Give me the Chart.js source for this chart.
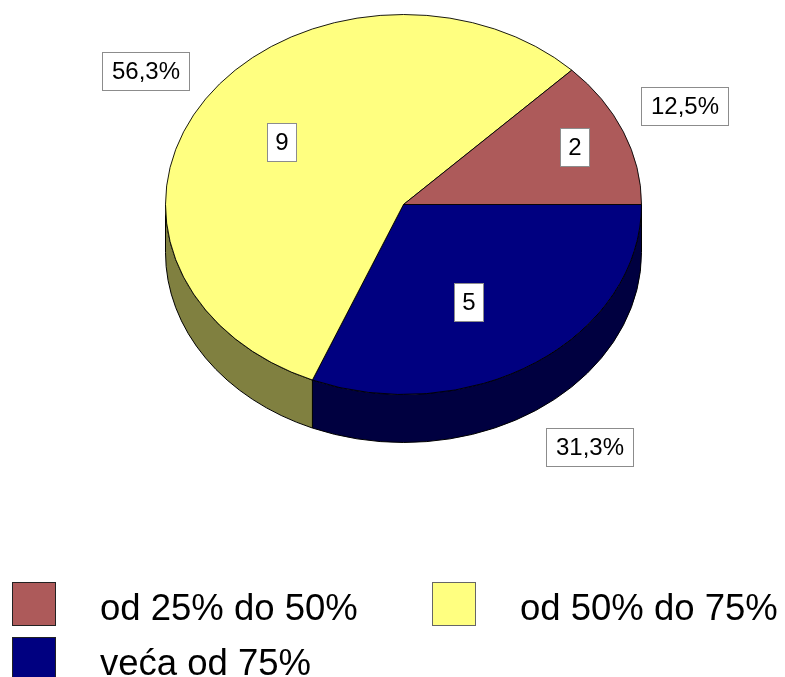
<!DOCTYPE html>
<html><head><meta charset="utf-8">
<script src="https://cdn.jsdelivr.net/npm/chart.js@4.4.1/dist/chart.umd.min.js"></script>
<style>html,body{margin:0;padding:0;background:#fff;overflow:hidden}canvas{display:block}</style>
</head><body>
<canvas id="c" width="785" height="677"></canvas>
<script>
// ---- data ----
const categories = ['od 25% do 50%', 'od 50% do 75%', 'veća od 75%'];
const counts = [2, 9, 5];
const percentLabels = ['12,5%', '56,3%', '31,3%'];
const topColors = ['#AD5A5A', '#FFFF80', '#000080'];
const sideColors = ['#572D2D', '#808040', '#000040'];

// ---- layout ----
const FONT = '"Liberation Sans", Arial, sans-serif';
const W = 785, H = 677;
const CX = 403.5, CY_SCREEN = 204.5, R = 238, K = 190 / 238, DEPTH = 48;
const CY_LOGICAL = 300;
// slices run counter-clockwise from 3 o'clock in the original; Chart.js draws clockwise
const drawOrder = [2, 1, 0];
const valueLabelRadius = [0.783, 0.607, 0.586];
const valueLabelAngleShift = [0, -1, 5.75];
const pctAnchorRadius = 1.078;

function props(arc) {
  return arc.getProps(['x', 'y', 'startAngle', 'endAngle', 'outerRadius'], true);
}

function labelBox(ctx, text, x, y, w, h) {
  ctx.fillStyle = '#fff';
  ctx.fillRect(Math.round(x), Math.round(y), Math.round(w), Math.round(h));
  ctx.strokeStyle = '#8c8c8c';
  ctx.lineWidth = 1;
  ctx.strokeRect(Math.round(x) + 0.5, Math.round(y) + 0.5, Math.round(w) - 1, Math.round(h) - 1);
  ctx.fillStyle = '#000';
  ctx.textAlign = 'center';
  ctx.textBaseline = 'middle';
  ctx.fillText(text, Math.round(x) + Math.round(w) / 2, Math.round(y) + Math.round(h) / 2 + 1);
}

const pie3d = {
  id: 'pie3d',
  beforeDatasetsDraw(chart) {
    const ctx = chart.ctx;
    const arcs = chart.getDatasetMeta(0).data;
    ctx.save();
    arcs.forEach((arc, j) => {
      const p = props(arc);
      const cat = drawOrder[j];
      const rx = p.outerRadius, ry = p.outerRadius * K;
      [-2 * Math.PI, 0, 2 * Math.PI].forEach(b => {
        const a0 = Math.max(p.startAngle, b), a1 = Math.min(p.endAngle, b + Math.PI);
        if (a1 - a0 > 1e-6) {
          ctx.beginPath();
          ctx.ellipse(p.x, CY_SCREEN, rx, ry, 0, a0, a1, false);
          ctx.lineTo(p.x + rx * Math.cos(a1), CY_SCREEN + DEPTH + ry * Math.sin(a1));
          ctx.ellipse(p.x, CY_SCREEN + DEPTH, rx, ry, 0, a1, a0, true);
          ctx.closePath();
          ctx.fillStyle = sideColors[cat];
          ctx.fill();
          ctx.strokeStyle = '#000';
          ctx.lineWidth = 1;
          ctx.stroke();
        }
      });
    });
    const cyL = arcs.length ? props(arcs[0]).y : CY_LOGICAL;
    ctx.translate(0, CY_SCREEN - K * cyL);
    ctx.scale(1, K);
  },
  afterDatasetsDraw(chart) {
    const ctx = chart.ctx;
    ctx.restore();
    const arcs = chart.getDatasetMeta(0).data;
    ctx.save();
    ctx.font = '24px ' + FONT;
    arcs.forEach((arc, j) => {
      const p = props(arc);
      const cat = drawOrder[j];
      const rx = p.outerRadius, ry = p.outerRadius * K;
      const mid = (p.startAngle + p.endAngle) / 2;
      // value label inside slice
      const va = mid + valueLabelAngleShift[cat] * Math.PI / 180;
      const vx = p.x + rx * valueLabelRadius[cat] * Math.cos(va);
      const vy = CY_SCREEN + ry * valueLabelRadius[cat] * Math.sin(va);
      const vt = String(counts[cat]);
      const vw = ctx.measureText(vt).width + 17;
      labelBox(ctx, vt, vx - vw / 2, vy - 19.5, vw, 39);
      // percentage label outside
      const c = Math.cos(mid), s = Math.sin(mid);
      const ax = p.x + rx * pctAnchorRadius * c;
      const ay = CY_SCREEN + ry * pctAnchorRadius * s + (s > 0 ? DEPTH + 5 : 0);
      const pt = percentLabels[cat];
      const pw = ctx.measureText(pt).width + 20;
      const bx = c >= 0 ? ax : ax - pw;
      const by = s > 0 ? ay : ay - 39;
      labelBox(ctx, pt, bx, by, pw, 39);
    });
    ctx.restore();
  },
  afterDraw(chart) {
    const ctx = chart.ctx;
    const items = [
      { cat: 0, x: 12, y: 582 },
      { cat: 1, x: 432, y: 582 },
      { cat: 2, x: 12, y: 637 }
    ];
    ctx.save();
    ctx.font = '36.5px ' + FONT;
    ctx.textAlign = 'left';
    ctx.textBaseline = 'alphabetic';
    items.forEach(it => {
      ctx.fillStyle = topColors[it.cat];
      ctx.fillRect(it.x, it.y, 44, 44);
      ctx.strokeStyle = it.cat === 1 ? '#666' : '#222';
      ctx.lineWidth = 1;
      ctx.strokeRect(it.x + 0.5, it.y + 0.5, 43, 43);
      ctx.fillStyle = '#000';
      ctx.fillText(categories[it.cat], it.x + 88, it.y + 38);
    });
    ctx.restore();
  }
};

new Chart(document.getElementById('c'), {
  type: 'pie',
  data: {
    labels: drawOrder.map(i => categories[i]),
    datasets: [{
      data: drawOrder.map(i => counts[i]),
      backgroundColor: drawOrder.map(i => topColors[i]),
      borderColor: '#000',
      borderWidth: 1,
      hoverOffset: 0,
      radius: R
    }]
  },
  options: {
    responsive: false,
    animation: false,
    devicePixelRatio: 1,
    events: [],
    rotation: 90,
    layout: { padding: { left: CX - R, right: W - CX - R, top: CY_LOGICAL - R, bottom: H - CY_LOGICAL - R } },
    plugins: { legend: { display: false }, tooltip: { enabled: false }, title: { display: false } }
  },
  plugins: [pie3d]
});
</script>
</body></html>
